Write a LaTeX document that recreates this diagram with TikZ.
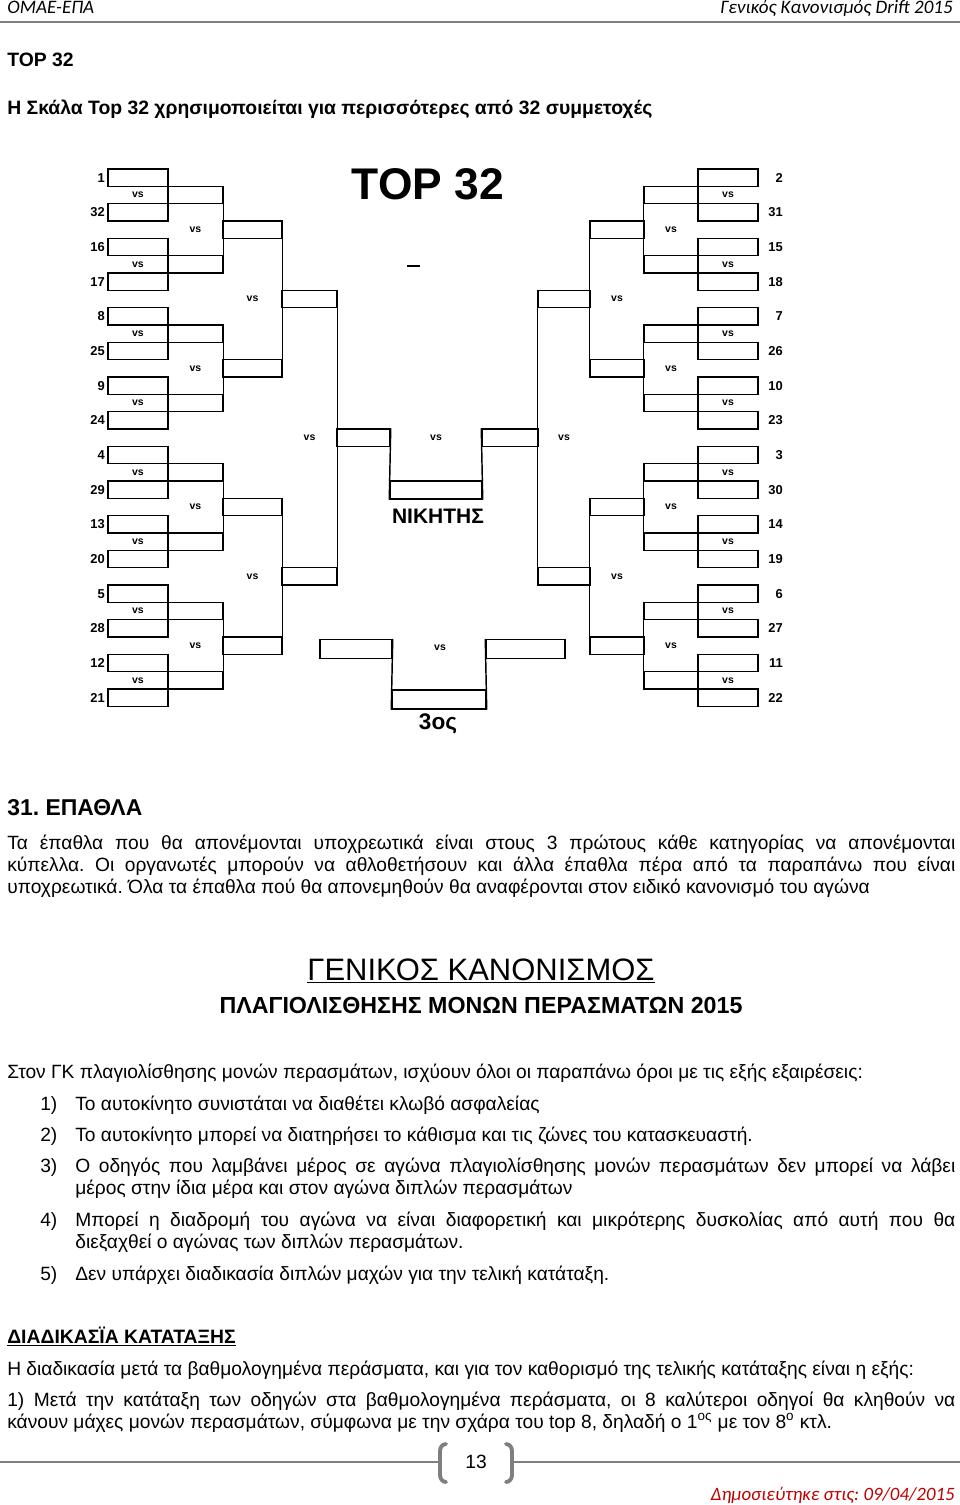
\documentclass[tikz,border=0pt]{standalone}
\usepackage{fontspec}
\setmainfont{Liberation Sans}
\newfontfamily\hdrfont{Carlito}
\usepackage{xcolor}
\definecolor{rulegray}{HTML}{7F7F7F}
\definecolor{pubred}{HTML}{C00000}
\frenchspacing
\newcommand{\fillline}[2]{\makebox[#1][s]{#2}}
\tikzset{
slot/.style={draw, line width=0.9pt, inner sep=0pt, minimum height=10.75pt},
bline/.style={line width=0.9pt},
vs/.style={font=\bfseries\fontsize{6.5}{7}\selectfont, inner sep=0pt},
seed/.style={font=\bfseries\fontsize{8}{9}\selectfont, inner sep=0pt, anchor=east},
txt/.style={anchor=base west, inner sep=0pt, font=\fontsize{11.9}{14}\selectfont},
}
\begin{document}
\begin{tikzpicture}[x=0.62pt,y=-0.62pt]
\useasboundingbox (0,0) rectangle (960,1505);

\node[anchor=base west, inner sep=0pt, font=\hdrfont\itshape\fontsize{11.8}{14}\selectfont] (hdl) at (7,13) {ΟΜΑΕ-ΕΠΑ};
\node[anchor=base east, inner sep=0pt, font=\hdrfont\itshape\fontsize{11.8}{14}\selectfont] (hdr) at (953,13) {Γενικός Κανονισμός Drift 2015};
\draw[rulegray, line width=1.2pt] (0,22) -- (960,22);

\node[txt, font=\bfseries\fontsize{12}{14}\selectfont] (top) at (7,66) {TOP 32};
\node[txt, font=\bfseries\fontsize{12}{14}\selectfont] (intro) at (7,114) {Η Σκάλα Top 32 χρησιμοποιείται για περισσότερες από 32 συμμετοχές};

% bracket
\node[font=\bfseries\fontsize{27.5}{30}\selectfont, inner sep=0pt] (title) at (428,184) {TOP 32};
\draw[line width=1.2pt] (407,266) -- (420,266);

\foreach \s [count=\i from 0] in {1,32,16,17,8,25,9,24,4,29,13,20,5,28,12,21}{
\pgfmathsetmacro\yy{177.67+34.667*\i}
\node[slot, minimum width=60*0.62pt] (l1-\i) at (138,\yy) {};
\node[seed] (ln\i) at (105,\yy) {\s};
}
\foreach \s [count=\i from 0] in {2,31,15,18,7,26,10,23,3,30,14,19,6,27,11,22}{
\pgfmathsetmacro\yy{177.67+34.667*\i}
\node[slot, minimum width=60*0.62pt] (r1-\i) at (728,\yy) {};
\node[seed] (rn\i) at (783,\yy) {\s};
}
\foreach \j in {0,...,7}{
\pgfmathsetmacro\yy{195+69.333*\j}
\pgfmathtruncatemacro\a{2*\j}
\pgfmathtruncatemacro\b{2*\j+1}
\node[slot, minimum width=55*0.62pt] (l2-\j) at (195.5,\yy) {};
\node[slot, minimum width=54*0.62pt] (r2-\j) at (671,\yy) {};
\draw[bline] (l1-\a.north east) -- (l1-\b.south east);
\draw[bline] (r1-\a.north west) -- (r1-\b.south west);
\node[vs] (lv1-\j) at (138,\yy) {vs};
\node[vs] (rv1-\j) at (728,\yy) {vs};
}
\foreach \j in {0,...,3}{
\pgfmathsetmacro\yy{229.67+138.667*\j}
\pgfmathtruncatemacro\a{2*\j}
\pgfmathtruncatemacro\b{2*\j+1}
\node[slot, minimum width=59*0.62pt] (l3-\j) at (252.5,\yy) {};
\node[slot, minimum width=54*0.62pt] (r3-\j) at (617,\yy) {};
\draw[bline] (l2-\a.north east) -- (l2-\b.south east);
\draw[bline] (r2-\a.north west) -- (r2-\b.south west);
\node[vs] (lv2-\j) at (195.5,\yy) {vs};
\node[vs] (rv2-\j) at (671,\yy) {vs};
}
\foreach \j in {0,1}{
\pgfmathsetmacro\yy{299+277.333*\j}
\pgfmathtruncatemacro\a{2*\j}
\pgfmathtruncatemacro\b{2*\j+1}
\node[slot, minimum width=55*0.62pt] (l4-\j) at (309.5,\yy) {};
\node[slot, minimum width=52*0.62pt] (r4-\j) at (564,\yy) {};
\draw[bline] (l3-\a.north east) -- (l3-\b.south east);
\draw[bline] (r3-\a.north west) -- (r3-\b.south west);
\node[vs] (lv3-\j) at (252.5,\yy) {vs};
\node[vs] (rv3-\j) at (617,\yy) {vs};
}
\node[slot, minimum width=53*0.62pt] (l5) at (363.5,437.67) {};
\node[slot, minimum width=56*0.62pt] (r5) at (510,437.67) {};
\draw[bline] (l4-0.north east) -- (l4-1.south east);
\draw[bline] (r4-0.north west) -- (r4-1.south west);
\node[vs] (lv4) at (309.5,437.67) {vs};
\node[vs] (rv4) at (564,437.67) {vs};

\node[slot, minimum width=92*0.62pt, minimum height=18*0.62pt] (fin) at (436,490) {};
\draw[bline] (l5.north east) -- (fin.south west);
\draw[bline] (r5.north west) -- (fin.south east);
\node[vs] (fv) at (436,437.67) {vs};
\node[font=\bfseries\fontsize{13}{15}\selectfont, inner sep=0pt] (win) at (438,516) {ΝΙΚΗΤΗΣ};

\node[slot, minimum width=72*0.62pt, minimum height=19*0.62pt] (tpl) at (356,649) {};
\node[slot, minimum width=79*0.62pt, minimum height=19*0.62pt] (tpr) at (525.5,649) {};
\node[slot, minimum width=94*0.62pt, minimum height=19*0.62pt] (tpb) at (439,699.5) {};
\draw[bline] (tpl.north east) -- (tpb.south west);
\draw[bline] (tpr.north west) -- (tpb.south east);
\node[vs] (tv) at (440,648) {vs};
\node[font=\bfseries\fontsize{14}{16}\selectfont, inner sep=0pt] (third) at (438,724) {3ος};

% prizes
\node[txt, font=\bfseries\fontsize{14.2}{16}\selectfont] (prz) at (7,815) {31. ΕΠΑΘΛΑ};
\node[txt] (pz1) at (7,849) {\fillline{587.8pt}{Τα έπαθλα που θα απονέμονται υποχρεωτικά είναι στους 3 πρώτους κάθε κατηγορίας να απονέμονται}};
\node[txt] (pz2) at (7,871) {\fillline{587.8pt}{κύπελλα. Οι οργανωτές μπορούν να αθλοθετήσουν και άλλα έπαθλα πέρα από τα παραπάνω που είναι}};
\node[txt] (pz3) at (7,893) {υποχρεωτικά. Όλα τα έπαθλα πού θα απονεμηθούν θα αναφέρονται στον ειδικό κανονισμό του αγώνα};

\node[anchor=base, inner sep=0pt, font=\fontsize{19.2}{22}\selectfont] (gk) at (481,980) {\underline{ΓΕΝΙΚΟΣ ΚΑΝΟΝΙΣΜΟΣ}};
\node[anchor=base, inner sep=0pt, font=\bfseries\fontsize{14.4}{17}\selectfont] (plag) at (481,1013) {ΠΛΑΓΙΟΛΙΣΘΗΣΗΣ ΜΟΝΩΝ ΠΕΡΑΣΜΑΤΩΝ 2015};

\node[txt] (ston) at (7,1078) {Στον ΓΚ πλαγιολίσθησης μονών περασμάτων, ισχύουν όλοι οι παραπάνω όροι με τις εξής εξαιρέσεις:};
\foreach \n/\yy in {1/1110,2/1141,3/1172,4/1226,5/1280}{
\node[txt] (num\n) at (40,\yy) {\n)};
}
\node[txt] (it1) at (75,1110) {Το αυτοκίνητο συνιστάται να διαθέτει κλωβό ασφαλείας};
\node[txt] (it2) at (75,1141) {Το αυτοκίνητο μπορεί να διατηρήσει το κάθισμα και τις ζώνες του κατασκευαστή.};
\node[txt] (it3a) at (75,1172) {\fillline{545.6pt}{Ο οδηγός που λαμβάνει μέρος σε αγώνα πλαγιολίσθησης μονών περασμάτων δεν μπορεί να λάβει}};
\node[txt] (it3b) at (75,1194) {μέρος στην ίδια μέρα και στον αγώνα διπλών περασμάτων};
\node[txt] (it4a) at (75,1226) {\fillline{545.6pt}{Μπορεί η διαδρομή του αγώνα να είναι διαφορετική και μικρότερης δυσκολίας από αυτή που θα}};
\node[txt] (it4b) at (75,1248) {διεξαχθεί ο αγώνας των διπλών περασμάτων.};
\node[txt] (it5) at (75,1280) {Δεν υπάρχει διαδικασία διπλών μαχών για την τελική κατάταξη.};

\node[txt, font=\bfseries\fontsize{12}{14}\selectfont] (rank) at (7,1343) {\underline{ΔΙΑΔΙΚΑΣΪΑ ΚΑΤΑΤΑΞΗΣ}};
\node[txt] (rk1) at (7,1375) {Η διαδικασία μετά τα βαθμολογημένα περάσματα, και για τον καθορισμό της τελικής κατάταξης είναι η εξής:};
\node[txt] (rk2) at (7,1406) {\fillline{587.8pt}{1) Μετά την κατάταξη των οδηγών στα βαθμολογημένα περάσματα, οι 8 καλύτεροι οδηγοί θα κληθούν να}};
\node[txt] (rk3) at (7,1428) {κάνουν μάχες μονών περασμάτων, σύμφωνα με την σχάρα του top 8, δηλαδή ο 1\textsuperscript{ος} με τον 8\textsuperscript{ο} κτλ.};

% footer
\draw[rulegray, line width=1.5pt] (0,1462) -- (440,1462);
\draw[rulegray, line width=1.5pt] (512,1462) -- (960,1462);
\draw[rulegray, line width=2.4pt, line cap=round] (446,1444) to[out=180,in=90] (440,1451) -- (440,1475) to[out=-90,in=180] (446,1482);
\draw[rulegray, line width=2.4pt, line cap=round] (506,1444) to[out=0,in=90] (512,1451) -- (512,1475) to[out=-90,in=0] (506,1482);
\node[anchor=base, inner sep=0pt, font=\fontsize{11.9}{14}\selectfont] (pg) at (476,1468) {13};
\node[anchor=base east, inner sep=0pt, text=pubred, font=\hdrfont\itshape\fontsize{11.7}{14}\selectfont] (pub) at (955,1500) {Δημοσιεύτηκε στις: 09/04/2015};
\end{tikzpicture}
\end{document}
